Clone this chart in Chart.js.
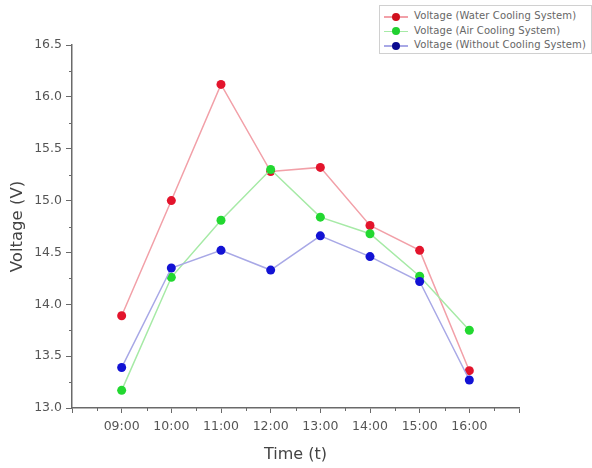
<!DOCTYPE html>
<html>
<head>
<meta charset="utf-8">
<script src="https://cdn.jsdelivr.net/npm/chart.js@4.4.0/dist/chart.umd.min.js"></script>
<style>
  html, body { margin: 0; padding: 0; background: #fff; }
  #wrap { position: relative; width: 592px; height: 468px; }
  #legend { position: absolute; left: 379px; top: 5px; width: 213px; height: 49px;
    border: 1px solid #d0d0d0; background: #fff; font-family: "DejaVu Sans", sans-serif;
    font-size: 10px; color: #666; box-sizing: border-box; padding-top: 3px; }
  .row { position: relative; height: 14.5px; line-height: 14px; }
  .sym { position: absolute; left: 4px; top: 7px; width: 24px; height: 1.5px; }
  .dot { position: absolute; left: 12px; top: 3.5px; width: 8px; height: 8px; border-radius: 50%; }
  .txt { position: absolute; left: 34px; top: 0; white-space: nowrap; letter-spacing: 0.1px; }
</style>
</head>
<body>
<div id="wrap">
  <canvas id="c" width="592" height="468"></canvas>
  <div id="legend"></div>
</div>
<script>
const categories = ["09:00", "10:00", "11:00", "12:00", "13:00", "14:00", "15:00", "16:00"];
const hours = [9, 10, 11, 12, 13, 14, 15, 16];
const waterCooling = [13.89, 15.00, 16.12, 15.28, 15.32, 14.76, 14.52, 13.36];
const airCooling = [13.17, 14.26, 14.81, 15.30, 14.84, 14.68, 14.27, 13.75];
const withoutCooling = [13.39, 14.35, 14.52, 14.33, 14.66, 14.46, 14.22, 13.27];
const seriesNames = ["Voltage (Water Cooling System)", "Voltage (Air Cooling System)", "Voltage (Without Cooling System)"];
const yTickLabels = ["13.0", "13.5", "14.0", "14.5", "15.0", "15.5", "16.0", "16.5"];

const pointColors = ["#e3142c", "#22d830", "#1212d4"];
const lineColors = ["#f2a0a8", "#a6eaa6", "#a8a8e6"];
const legendDotColors = ["#d0101e", "#20d030", "#0a0a90"];

function pts(vals) { return hours.map((h, i) => ({ x: h, y: vals[i] })); }

const datasets = [waterCooling, airCooling, withoutCooling].map((vals, k) => ({
  label: seriesNames[k],
  data: pts(vals),
  borderColor: lineColors[k],
  backgroundColor: pointColors[k],
  pointBackgroundColor: pointColors[k],
  pointBorderColor: pointColors[k],
  pointRadius: 4.5,
  pointBorderWidth: 0,
  borderWidth: 1.5,
  tension: 0,
  order: 3 - k
}));

const axisColor = "#6a6a6a";
const fontFam = "'DejaVu Sans', sans-serif";

const minorTicks = {
  id: "minorTicks",
  afterDraw(chart) {
    const ctx = chart.ctx;
    const x = chart.scales.x, y = chart.scales.y;
    ctx.save();
    ctx.strokeStyle = axisColor;
    ctx.lineWidth = 1;
    for (let v = 8.5; v < 17; v += 1) {
      const px = Math.round(x.getPixelForValue(v)) + 0.5;
      ctx.beginPath();
      ctx.moveTo(px, y.bottom);
      ctx.lineTo(px, y.bottom + 3);
      ctx.stroke();
    }
    for (let v = 13.25; v < 16.5; v += 0.5) {
      const py = Math.round(y.getPixelForValue(v)) + 0.5;
      ctx.beginPath();
      ctx.moveTo(x.left, py);
      ctx.lineTo(x.left - 3, py);
      ctx.stroke();
    }
    ctx.restore();
  }
};

new Chart(document.getElementById("c"), {
  type: "line",
  data: { datasets },
  plugins: [minorTicks],
  options: {
    responsive: false,
    animation: false,
    layout: { padding: { top: 45, right: 73, left: 0, bottom: 0 } },
    plugins: { legend: { display: false }, tooltip: { enabled: false } },
    scales: {
      x: {
        type: "linear",
        min: 8, max: 17,
        afterFit(s) { s.height = 60; },
        ticks: {
          stepSize: 1,
          autoSkip: false,
          maxRotation: 0,
          padding: 6,
          color: "#555",
          font: { family: fontFam, size: 12.5 },
          callback(v) { const i = hours.indexOf(v); return i >= 0 ? categories[i] : ""; }
        },
        grid: { drawOnChartArea: false, drawTicks: true, tickLength: 5, color: axisColor, lineWidth: 1 },
        border: { color: axisColor, width: 1.5 },
        title: { display: true, text: "Time (t)", color: "#444",
          font: { family: fontFam, size: 16 }, padding: { top: 6 } }
      },
      y: {
        min: 13, max: 16.5,
        afterFit(s) { s.width = 72; },
        ticks: {
          stepSize: 0.5,
          padding: 4,
          color: "#555",
          font: { family: fontFam, size: 12.5 },
          callback(v) { const i = Math.round((v - 13) / 0.5); return yTickLabels[i] ?? ""; }
        },
        grid: { drawOnChartArea: false, drawTicks: true, tickLength: 6, color: axisColor, lineWidth: 1 },
        border: { color: axisColor, width: 1.5 },
        title: { display: true, text: "Voltage (V)", color: "#444",
          font: { family: fontFam, size: 16.5 }, padding: { bottom: 0, top: 8 } }
      }
    }
  }
});

const leg = document.getElementById("legend");
seriesNames.forEach((n, k) => {
  const r = document.createElement("div");
  r.className = "row";
  r.innerHTML = '<span class="sym" style="background:' + lineColors[k] + '"></span>' +
    '<span class="dot" style="background:' + legendDotColors[k] + '"></span>' +
    '<span class="txt">' + n + '</span>';
  leg.appendChild(r);
});
</script>
</body>
</html>
